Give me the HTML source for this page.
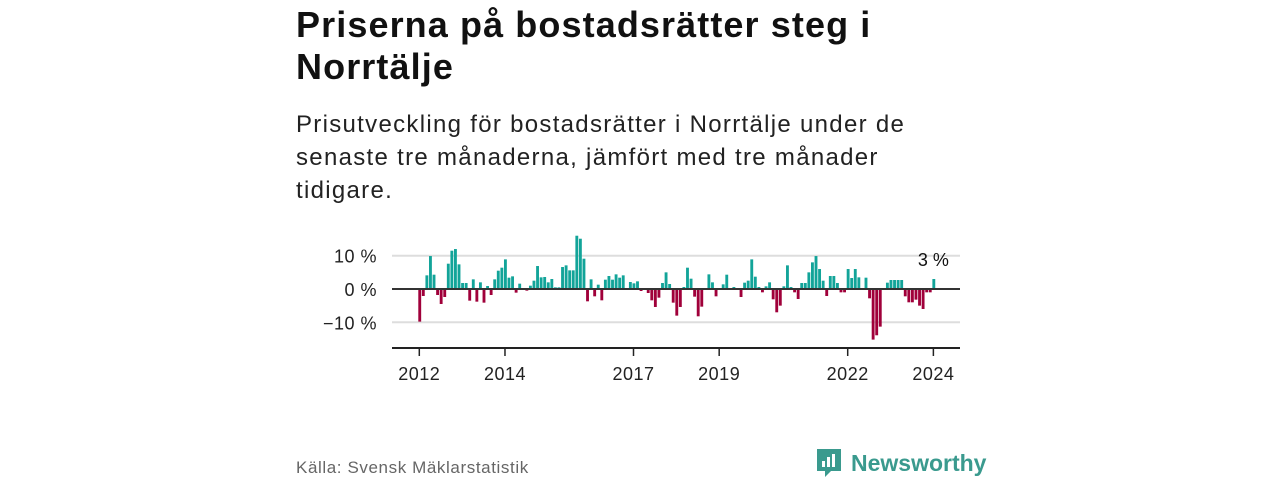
<!DOCTYPE html>
<html><head><meta charset="utf-8"><style>
body{margin:0;width:1280px;height:480px;background:#fff;font-family:"Liberation Sans",sans-serif;overflow:hidden;position:relative;color:#111}
.t{position:absolute;left:296px;top:4px;font-size:36px;letter-spacing:1.1px;font-weight:bold;line-height:42px;white-space:nowrap}
.s{position:absolute;left:296px;top:108px;font-size:24px;letter-spacing:1.3px;line-height:33px;white-space:nowrap;color:#222}
.src{position:absolute;left:296px;top:458px;font-size:17px;letter-spacing:0.6px;color:#666}
.logo{position:absolute;left:815px;top:446px;height:34px;display:flex;align-items:center;gap:8px;color:#3a9a8e;font-weight:bold;font-size:23px}
</style></head><body>
<div class="t">Priserna på bostadsrätter steg i<br>Norrtälje</div>
<div class="s">Prisutveckling för bostadsrätter i Norrtälje under de<br>senaste tre månaderna, jämfört med tre månader<br>tidigare.</div>
<svg id="chart" width="1280" height="400" style="position:absolute;left:0;top:0"></svg>
<div class="src">Källa: Svensk Mäklarstatistik</div>
<div class="logo">
<svg width="28" height="32"><path d="M2 2h24v22h-10l-6 6v-6H2z" fill="#3a9a8e"/><rect x="7" y="14" width="3" height="6" fill="#fff"/><rect x="12" y="10" width="3" height="10" fill="#fff"/><rect x="17" y="7" width="3" height="13" fill="#fff"/></svg>
<span>Newsworthy</span></div>
<script>
const values=[-9.8,-2.1,4.1,9.9,4.3,-1.8,-4.5,-2.4,7.6,11.5,12,7.4,1.8,1.8,-3.5,2.9,-3.8,2,-4.1,0.9,-1.8,2.9,5.5,6.4,8.9,3.4,3.8,-1.1,1.6,0,-0.5,1,2.5,6.9,3.5,3.6,2,3,0.5,0.5,6.6,7.1,5.6,5.6,16,15.1,9.1,-3.7,
2.9,-2.2,1.3,-3.4,2.8,3.9,2.8,4.4,3.4,4.1,0,2.1,1.7,2.3,-0.6,0,-1.2,-3.4,-5.4,-2.6,1.8,5,1.5,-4.1,-8,-5.4,0.6,6.4,3.1,-2.3,-8.2,-5.3,0,4.4,2,-2.2,0,1.4,4.3,0,0.6,0.3,-2.4,1.9,2.5,8.9,3.7,0.6,-1,0.8,2,-3.1,
-7,-5,0.8,7.1,0.6,-1,-3,1.8,1.8,5,8,9.9,6,2.5,-2.1,3.9,3.9,1.8,-1,-1,6,3.3,6,3.5,0,3.4,-2.8,-15.2,-13.9,-11.3,0,1.9,2.7,2.7,2.7,2.7,-2.2,-4,-4,-3.2,-5,-6,-1,-1,3];
const startYear=2012;
const yTicks=[10,0,-10];
const yTickLabels=["10 %","0 %","−10 %"];
const xTicks=[2012,2014,2017,2019,2022,2024];
const lastLabel="3 %";
const NS="http://www.w3.org/2000/svg";
const svg=document.getElementById('chart');
const x0=418.3,mw=3.57,left=392,right=960;
const xm=i=>x0+mw*i;
const y=v=>289-3.33*v;
function el(t,a){const e=document.createElementNS(NS,t);for(const k in a)e.setAttribute(k,a[k]);svg.appendChild(e);return e;}
yTicks.forEach((t,k)=>{
  const g=el('line',{x1:left,x2:right,y1:y(t),y2:y(t),stroke:t===0?'#333':'#ddd','stroke-width':2});
  
  
  const tx=el('text',{x:377,y:y(t)+7,'text-anchor':'end','font-size':18,'letter-spacing':0.5,fill:'#222'});
  tx.textContent=yTickLabels[k];
  
  
});
values.forEach((v,i)=>{
  const r=el('rect',{x:xm(i),width:mw-0.7,y:Math.min(y(v),y(0)),height:Math.abs(y(v)-y(0)),fill:v>=0?'#12a499':'#a0003a'});
  
  
});
const z=el('line',{x1:left,x2:right,y1:y(0),y2:y(0),stroke:'#333','stroke-width':2});


const ax=el('line',{x1:left,x2:right,y1:348,y2:348,stroke:'#222','stroke-width':2});


xTicks.forEach(yr=>{
  const xx=xm((yr-startYear)*12)+1;
  const tk=el('line',{x1:xx,x2:xx,y1:348,y2:356,stroke:'#222','stroke-width':1.5});
  
  
  const tx=el('text',{x:xx,y:380,'text-anchor':'middle','font-size':18,'letter-spacing':0.5,fill:'#222'});
  tx.textContent=yr;
  
  
});
const li=values.length-1;
const lb=el('text',{x:xm(li)+1,y:y(Math.max(values[li],0))-13,'text-anchor':'middle','font-size':18,fill:'#111'});
lb.textContent=lastLabel;


</script>
</body></html>
